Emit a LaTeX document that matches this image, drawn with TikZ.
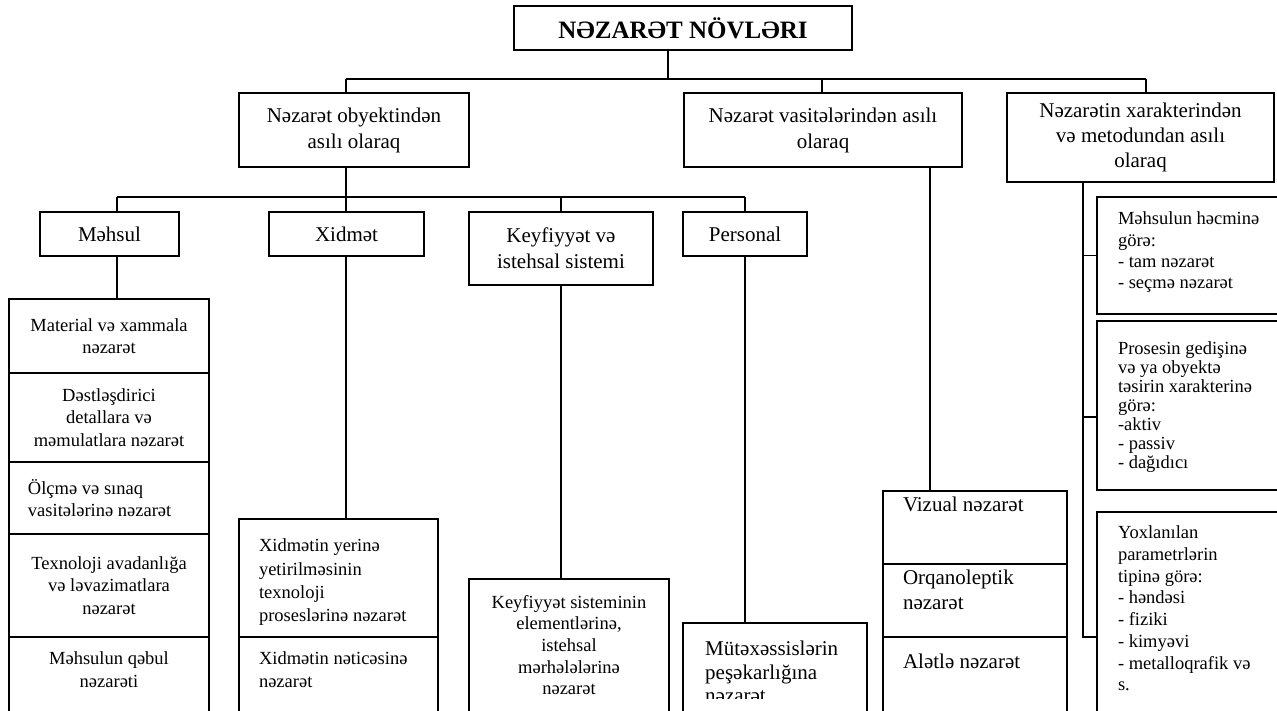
\documentclass[tikz,border=0pt]{standalone}
\usepackage{fontspec}
\setmainfont{Liberation Serif}

% font sizes used in the chart
\newcommand\fsT{\bfseries\fontsize{25}{30}\selectfont}
\newcommand\fsH{\fontsize{21}{26}\selectfont}
\newcommand\fsB{\fontsize{18.5}{22.5}\selectfont}
% left-aligned paragraph with a left margin
\newcommand\lft[1]{\leftskip=#1pt\rightskip=0pt plus 1fil\relax}

% \tb{name}{x}{y}{width}{height}{top material}{format}{text}
% y is measured downwards from the top edge
\newcommand\tb[8]{%
  \node[box] (#1) at (#2,-#3)
    {\vbox to #5pt{\hsize=#4pt\relax\parindent=0pt\relax#6#7\noindent\ignorespaces#8\par\vss}};}

\tikzset{
  box/.style={draw, line width=1.9pt, anchor=north west, inner sep=0pt, outer sep=0pt},
  link/.style={draw, line width=1.9pt},
}

\begin{document}
\begin{tikzpicture}[x=1pt,y=1pt]
\useasboundingbox (0,0) rectangle (1277,-711);
\fill[white] (0,0) rectangle (1277,-711);

% ---- top and first level ----
\tb{title}{514}{6}{338}{44}{\vss}{\centering\fsT}{NƏZARƏT NÖVLƏRI}
\tb{obj}{239}{93}{230}{74}{\vss}{\centering\fsH}{Nəzarət obyektindən\\asılı olaraq}
\tb{tool}{684}{93}{278}{74}{\vss}{\centering\fsH}{Nəzarət vasitələrindən asılı\\olaraq}
\tb{char}{1007}{93}{267}{89}{\vss}{\centering\fontsize{21}{25}\selectfont}{Nəzarətin xarakterindən\\və metodundan asılı\\olaraq}

% ---- objects of control ----
\tb{prod}{40}{212}{139}{44}{\vss}{\centering\fsH}{Məhsul}
\tb{serv}{269}{212}{155}{44}{\vss}{\centering\fsH}{Xidmət}
\tb{qual}{469}{212}{184}{73}{\vss}{\centering\fsH}{Keyfiyyət və\\istehsal sistemi}
\tb{pers}{683}{212}{124}{44}{\vss}{\centering\fsH}{Personal}

% ---- product column ----
\tb{p1}{9}{299}{200}{74}{\vss}{\centering\fsB}{Material və xammala\\nəzarət}
\tb{p2}{9}{373}{200}{89}{\vss}{\centering\fsB}{Dəstləşdirici\\detallara və\\məmulatlara nəzarət}
\tb{p3}{9}{462}{200}{72}{\vss}{\lft{19}\fsB}{Ölçmə və sınaq\\vasitələrinə nəzarət}
\tb{p4}{9}{534}{200}{103}{\vss}{\centering\fsB}{Texnoloji avadanlığa\\və ləvazimatlara\\nəzarət}
\tb{p5}{9}{637}{200}{82}{\kern15pt}{\centering\fsB}{Məhsulun qəbul\\nəzarəti}

% ---- service column ----
\tb{x1}{239}{519}{199}{118}{\kern20pt}{\lft{20}\fontsize{18.5}{23.3}\selectfont}{Xidmətin yerinə\\yetirilməsinin\\texnoloji\\proseslərinə nəzarət}
\tb{x2}{239}{637}{199}{82}{\kern15pt}{\lft{20}\fsB}{Xidmətin nəticəsinə\\nəzarət}

% ---- quality system ----
\tb{ksub}{469}{579}{200}{140}{\kern16pt}{\centering\fontsize{18.5}{21.7}\selectfont}{Keyfiyyət sisteminin\\elementlərinə,\\istehsal\\mərhələlərinə\\nəzarət}

% ---- personnel (text cut by the inner margin) ----
\node[box, minimum width=184pt, minimum height=95pt] (psub) at (683,-623) {};
\begin{scope}
  \clip (psub.north west) rectangle (psub.east |- 0,-698);
  \node[anchor=north west, inner sep=0pt] (psubtext) at (psub.north west)
    {\vbox to 95pt{\hsize=184pt\relax\parindent=0pt\relax\kern18pt\lft{22}\fontsize{21}{23.5}\selectfont\noindent Mütəxəssislərin\\peşəkarlığına\\nəzarət\par\vss}};
\end{scope}

% ---- means of control ----
\tb{v1}{883}{491}{184}{73}{\kern6pt}{\lft{20}\fontsize{21}{25}\selectfont}{Vizual nəzarət}
\tb{v2}{883}{564}{184}{73}{\kern6pt}{\lft{20}\fontsize{21}{25}\selectfont}{Orqanoleptik\\nəzarət}
\tb{v3}{883}{637}{184}{82}{\kern17pt}{\lft{20}\fontsize{21}{25}\selectfont}{Alətlə nəzarət}

% ---- character and method ----
\tb{r1}{1097}{197}{190}{117}{\kern15pt}{\lft{21}\fontsize{18.5}{21.3}\selectfont}{Məhsulun həcminə\\görə:\\- tam nəzarət\\- seçmə nəzarət}
\tb{r2}{1097}{321}{190}{169}{\kern21pt}{\lft{21}\fontsize{18.5}{18.9}\selectfont}{Prosesin gedişinə\\və ya obyektə\\təsirin xarakterinə\\görə:\\-aktiv\\- passiv\\- dağıdıcı}
\tb{r3}{1097}{512}{190}{210}{\kern14pt}{\lft{21}\fontsize{18.5}{21.7}\selectfont}{Yoxlanılan\\parametrlərin\\tipinə görə:\\- həndəsi\\- fiziki\\- kimyəvi\\- metalloqrafik və\\s.}

% ---- connectors: first level ----
\coordinate (k0) at (668,-79);
\coordinate (ka) at (346,-79);
\coordinate (kb) at (822,-79);
\coordinate (kc) at (1146,-79);
\draw[link] (title.south -| k0) -- (k0);
\draw[link] (ka) -- (kc);
\draw[link] (ka) -- (ka |- obj.north);
\draw[link] (kb) -- (kb |- tool.north);
\draw[link] (kc) -- (kc |- char.north);

% ---- connectors: objects of control ----
\coordinate (m1) at (117,-197);
\coordinate (m2) at (346,-197);
\coordinate (m3) at (561,-197);
\coordinate (m4) at (745,-197);
\draw[link] (m1) -- (m4);
\draw[link] (obj.south -| m2) -- (m2);
\draw[link] (m1) -- (m1 |- prod.north);
\draw[link] (m2) -- (m2 |- serv.north);
\draw[link] (m3) -- (m3 |- qual.north);
\draw[link] (m4) -- (m4 |- pers.north);
\draw[link] (prod.south -| m1) -- (p1.north -| m1);
\draw[link] (serv.south -| m2) -- (x1.north -| m2);
\draw[link] (qual.south -| m3) -- (ksub.north -| m3);
\draw[link] (pers.south -| m4) -- (psub.north -| m4);

% ---- connectors: means of control ----
\coordinate (vx) at (930,0);
\draw[link] (tool.south -| vx) -- (v1.north -| vx);

% ---- connectors: character and method ----
\coordinate (rx) at (1083,-637);
\coordinate (rt) at (1083,-417);
\draw[link] (char.south -| rx) -- (rx) -- (rx -| r3.west);
\draw[link] (r1.west -| rx) -- (r1.west);
\draw[link] (rt) -- (rt -| r2.west);
\end{tikzpicture}
\end{document}
